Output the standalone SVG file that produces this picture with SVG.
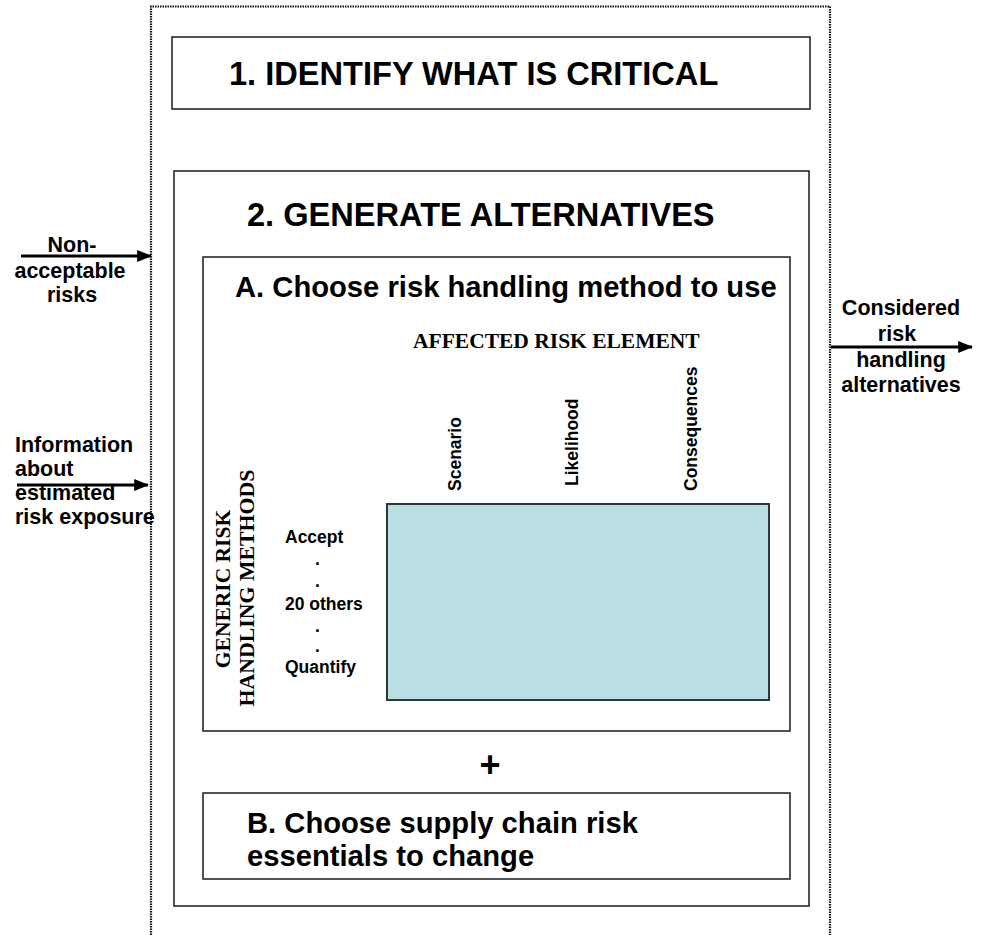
<svg xmlns="http://www.w3.org/2000/svg" width="982" height="935" viewBox="0 0 982 935">
  <style>
    .box { fill: #ffffff; stroke: #1a1a1a; stroke-width: 1.5; }
    .sans { font-family: "Liberation Sans", Arial, sans-serif; font-weight: bold; fill: #000; }
    .serif { font-family: "Liberation Serif", "Times New Roman", serif; font-weight: bold; fill: #000; }
    .conn { stroke: #000; stroke-width: 3; fill: none; }
    .dotted { stroke: #111; stroke-width: 2.2; stroke-dasharray: 1.5 1; fill: none; }
  </style>
  <defs>
    <marker id="arrow" markerWidth="5" markerHeight="4" refX="4.6" refY="2" orient="auto" markerUnits="strokeWidth">
      <path d="M0,0 L5,2 L0,4 Z" fill="#000"/>
    </marker>
  </defs>
  <rect width="982" height="935" fill="#ffffff"/>

  <g id="outer-frame">
    <path class="dotted" d="M151,935 L151,6.5 L830,6.5 L830,935"/>
  </g>

  <g id="step1">
    <rect class="box" x="172" y="37" width="638" height="72"/>
    <text class="sans" x="229" y="85" font-size="32.6">1. IDENTIFY WHAT IS CRITICAL</text>
  </g>

  <g id="step2">
    <rect class="box" x="174" y="171" width="635" height="735"/>
    <text class="sans" x="247" y="226" font-size="32.6">2. GENERATE ALTERNATIVES</text>
  </g>

  <g id="stepA">
    <rect class="box" x="203" y="257" width="587" height="474"/>
    <text class="sans" x="235" y="297" font-size="29.2">A. Choose risk handling method to use</text>
    <text class="serif" x="413" y="348" font-size="21.5">AFFECTED RISK ELEMENT</text>
    <text class="sans" font-size="17.5" transform="translate(461,491) rotate(-90)">Scenario</text>
    <text class="sans" font-size="17.5" transform="translate(578,486) rotate(-90)">Likelihood</text>
    <text class="sans" font-size="17.5" transform="translate(697,491) rotate(-90)">Consequences</text>
    <text class="serif" font-size="21.5" text-anchor="middle" transform="translate(230,589) rotate(-90)">GENERIC RISK</text>
    <text class="serif" font-size="21.8" text-anchor="middle" transform="translate(254,588) rotate(-90)">HANDLING METHODS</text>
    <text class="sans" x="285" y="543" font-size="17.5">Accept</text>
    <text class="sans" x="315" y="565" font-size="17.5">.</text>
    <text class="sans" x="315" y="587" font-size="17.5">.</text>
    <text class="sans" x="285" y="610" font-size="17.5">20 others</text>
    <text class="sans" x="315" y="632" font-size="17.5">.</text>
    <text class="sans" x="315" y="652" font-size="17.5">.</text>
    <text class="sans" x="285" y="673" font-size="17.5">Quantify</text>
  </g>

  <g id="matrix">
    <rect x="387" y="504" width="382" height="196" fill="#b9dfe2" stroke="#2a3a3a" stroke-width="2"/>
  </g>

  <g id="plus">
    <text class="sans" x="490" y="777" font-size="36" text-anchor="middle">+</text>
  </g>

  <g id="stepB">
    <rect class="box" x="203" y="793" width="587" height="86"/>
    <text class="sans" x="247" y="833" font-size="29.2">B. Choose supply chain risk</text>
    <text class="sans" x="247" y="866" font-size="29.2">essentials to change</text>
  </g>

  <g id="input-nonacceptable">
    <text class="sans" x="72" y="252" font-size="21.5" text-anchor="middle">Non-</text>
    <text class="sans" x="70" y="278" font-size="21.5" text-anchor="middle">acceptable</text>
    <text class="sans" x="72" y="302" font-size="21.5" text-anchor="middle">risks</text>
  </g>

  <g id="input-information">
    <text class="sans" x="15" y="452" font-size="21.5">Information</text>
    <text class="sans" x="15" y="476" font-size="21.5">about</text>
    <text class="sans" x="15" y="500" font-size="21.5">estimated</text>
    <text class="sans" x="15" y="524" font-size="21.5">risk exposure</text>
  </g>

  <g id="output-alternatives">
    <text class="sans" x="901" y="315" font-size="21.5" text-anchor="middle">Considered</text>
    <text class="sans" x="897" y="341" font-size="21.5" text-anchor="middle">risk</text>
    <text class="sans" x="901" y="367" font-size="21.5" text-anchor="middle">handling</text>
    <text class="sans" x="901" y="392" font-size="21.5" text-anchor="middle">alternatives</text>
  </g>

  <g id="connectors">
    <line class="conn" x1="21" y1="256" x2="151" y2="256" marker-end="url(#arrow)"/>
    <line class="conn" x1="17" y1="485" x2="148" y2="485" marker-end="url(#arrow)"/>
    <line class="conn" x1="831" y1="347" x2="972" y2="347" marker-end="url(#arrow)"/>
  </g>
</svg>
